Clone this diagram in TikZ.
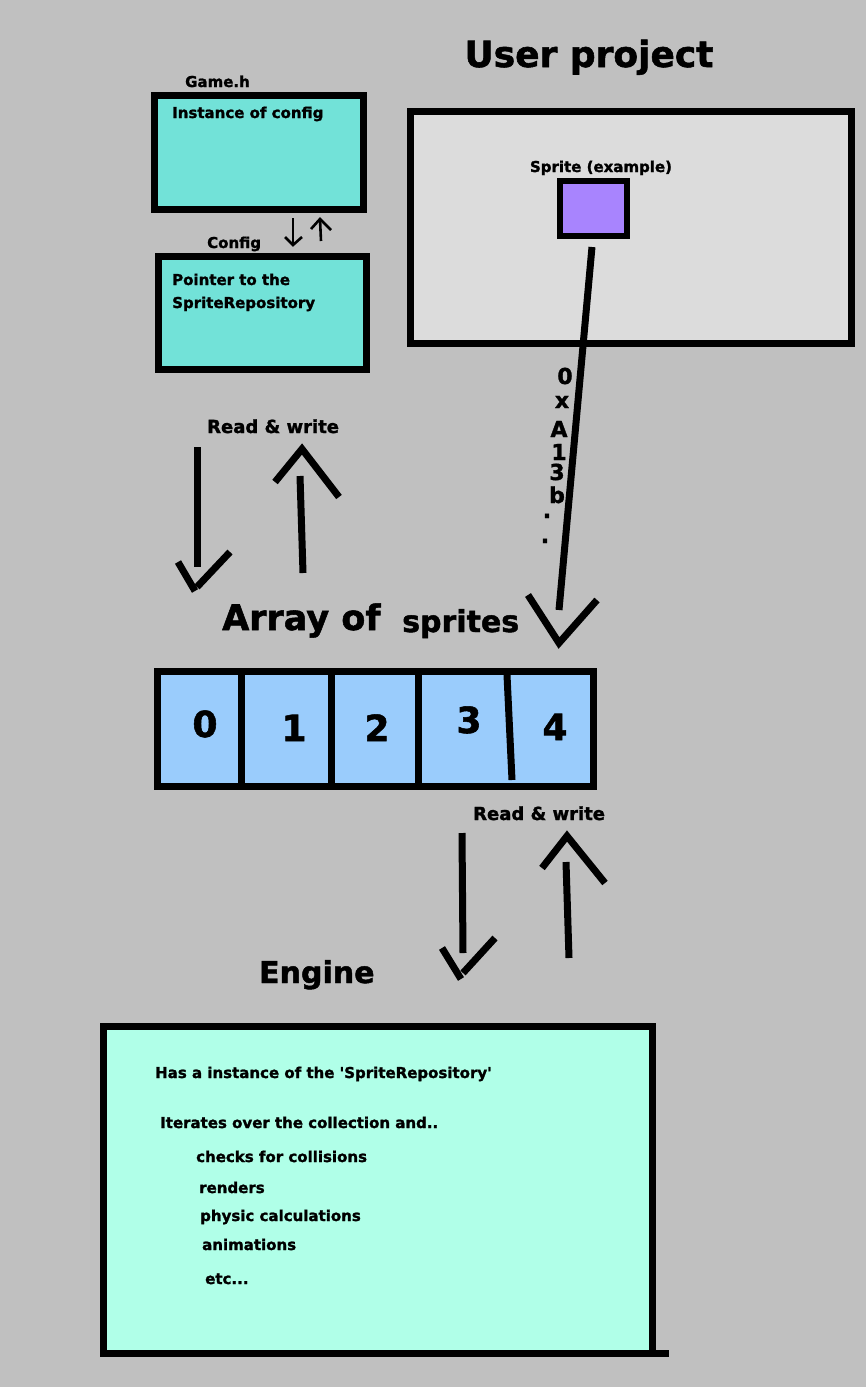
\documentclass[tikz,border=0pt]{standalone}
\usepackage{fontspec}
\setmainfont{DejaVu Sans}[Ligatures=TeXOff, BoldFeatures={FakeBold=1.5}]
\definecolor{bgc}{RGB}{192,192,192}
\definecolor{tealc}{RGB}{114,226,216}
\definecolor{userc}{RGB}{220,220,220}
\definecolor{purpc}{RGB}{168,132,254}
\definecolor{bluec}{RGB}{154,204,252}
\definecolor{mintc}{RGB}{176,255,232}
\tikzset{
  box/.style={draw=black, line width=7pt, rectangle, inner sep=0pt, outer sep=0pt},
  txt/.style={inner sep=0pt, anchor=base west, font=\bfseries\fontsize{15}{18}\selectfont},
  rwtxt/.style={inner sep=0pt, anchor=base west, font=\bfseries\fontsize{18}{21}\selectfont},
  bigtxt/.style={inner sep=0pt, anchor=base west, font=\bfseries\fontsize{#1}{#1}\selectfont},
  digit/.style={inner sep=0pt, anchor=base, font=\bfseries\fontsize{36}{36}\selectfont},
  hexch/.style={inner sep=0pt, anchor=base, font=\bfseries\fontsize{22}{22}\selectfont},
  stroke/.style={line width=7pt},
  thinstroke/.style={line width=2.6pt},
}
\begin{document}
\begin{tikzpicture}[x=1pt,y=-1pt]
\useasboundingbox (0,0) rectangle (866,1387);
\fill[bgc] (0,0) rectangle (866,1387);

% ---- Game.h / Config ----
\node[box, fill=tealc, minimum width=209, minimum height=113.5] (gameh) at (258.5,152.25) {};
\node[txt] (gamehlbl) at (185,87) {Game.h};
\node[txt] (gamehtxt) at (172,118) {Instance of config};
\node[box, fill=tealc, minimum width=208.5, minimum height=113] (config) at (262.25,313) {};
\node[txt] (configlbl) at (207,248) {Config};
\node[txt] (configtxt1) at (172,285) {Pointer to the};
\node[txt] (configtxt2) at (172,308) {SpriteRepository};

% small arrows between Game.h and Config
\coordinate (ma1) at (293,218); \coordinate (ma2) at (293,245);
\coordinate (ma3) at (285,237); \coordinate (ma4) at (302,237);
\draw[thinstroke] (ma1) -- (ma2);
\draw[thinstroke] (ma3) -- (ma2) -- (ma4);
\coordinate (mb1) at (321,241); \coordinate (mb2) at (320,219);
\coordinate (mb3) at (311,229); \coordinate (mb4) at (331,230);
\draw[thinstroke] (mb1) -- (mb2);
\draw[thinstroke] (mb3) -- (mb2) -- (mb4);

% ---- User project ----
\node[inner sep=0pt, anchor=base, font=\bfseries\fontsize{36}{36}\selectfont] (usertitle) at (589,67) {User project};
\node[box, fill=userc, minimum width=440.5, minimum height=232] (userbox) at (630.75,227.5) {};
\node[inner sep=0pt, anchor=base, font=\bfseries\fontsize{15}{18}\selectfont] (spritelbl) at (601,172) {Sprite (example)};
\node[box, line width=6pt, fill=purpc, minimum width=67, minimum height=55] (sprite) at (593.5,208.5) {};

% pointer line from sprite to array
\coordinate (sl1) at (592,247); \coordinate (sl2) at (559,610);
\draw[stroke] (sl1) -- (sl2);
\coordinate (sh1) at (528,595); \coordinate (sh2) at (559,643); \coordinate (sh3) at (597,600);
\draw[stroke] (sh1) -- (sh2) -- (sh3);

% hex address
\node[hexch] (hx1) at (565,384) {0};
\node[hexch] (hx2) at (562,408) {x};
\node[hexch] (hx3) at (559,437) {A};
\node[hexch] (hx4) at (559,460) {1};
\node[hexch] (hx5) at (557,480) {3};
\node[hexch] (hx6) at (557,503) {b};
\node[hexch] (hx7) at (547,518) {.};
\node[hexch] (hx8) at (545,543) {.};

% ---- Read & write (top) ----
\node[rwtxt] (rw1) at (207,433) {Read \& write};
\coordinate (la1) at (197,447); \coordinate (la2) at (197,567);
\draw[stroke] (la1) -- (la2);
\coordinate (la3) at (178,562); \coordinate (la4) at (195,591);
\coordinate (la5) at (197,587); \coordinate (la6) at (230,552);
\draw[stroke] (la3) -- (la4);
\draw[stroke] (la5) -- (la6);
\coordinate (lb1) at (303,573); \coordinate (lb2) at (300,476);
\draw[stroke] (lb1) -- (lb2);
\coordinate (lb3) at (275,482); \coordinate (lb4) at (302,449); \coordinate (lb5) at (339,497);
\draw[stroke] (lb3) -- (lb4) -- (lb5);

% ---- Array of sprites ----
\node[bigtxt=35] (arrlbl) at (222,630) {Array of};
\node[bigtxt=30] (sprlbl) at (402,632) {sprites};
\node[box, fill=bluec, minimum width=436.5, minimum height=115.5] (array) at (375.25,728.75) {};
\coordinate (d1a) at (241,675); \coordinate (d1b) at (241,783);
\coordinate (d2a) at (331,675); \coordinate (d2b) at (331,783);
\coordinate (d3a) at (418,675); \coordinate (d3b) at (418,783);
\coordinate (d4a) at (507,675); \coordinate (d4b) at (512,780);
\draw[stroke] (d1a) -- (d1b);
\draw[stroke] (d2a) -- (d2b);
\draw[stroke] (d3a) -- (d3b);
\draw[stroke] (d4a) -- (d4b);
\node[digit] (c0) at (205,737) {0};
\node[digit] (c1) at (294,741) {1};
\node[digit] (c2) at (377,741) {2};
\node[digit] (c3) at (469,733) {3};
\node[digit] (c4) at (555,740) {4};

% ---- Read & write (bottom) ----
\node[rwtxt] (rw2) at (473,820) {Read \& write};
\coordinate (ra1) at (462,833); \coordinate (ra2) at (463,953);
\draw[stroke] (ra1) -- (ra2);
\coordinate (ra3) at (442,948); \coordinate (ra4) at (461,979);
\coordinate (ra5) at (463,973); \coordinate (ra6) at (495,938);
\draw[stroke] (ra3) -- (ra4);
\draw[stroke] (ra5) -- (ra6);
\coordinate (rb1) at (569,958); \coordinate (rb2) at (566,862);
\draw[stroke] (rb1) -- (rb2);
\coordinate (rb3) at (542,868); \coordinate (rb4) at (567,836); \coordinate (rb5) at (605,883);
\draw[stroke] (rb3) -- (rb4) -- (rb5);

% ---- Engine ----
\node[bigtxt=30] (englbl) at (259,983) {Engine};
\node[box, fill=mintc, minimum width=549, minimum height=327.5] (engine) at (377.5,1189.75) {};
\coordinate (eb1) at (652,1353.5); \coordinate (eb2) at (669,1353.5);
\draw[stroke] (eb1) -- (eb2);
\node[txt] (e1) at (155,1078) {Has a instance of the 'SpriteRepository'};
\node[txt] (e2) at (160,1128) {Iterates over the collection and..};
\node[txt] (e3) at (196,1162) {checks for collisions};
\node[txt] (e4) at (199,1193) {renders};
\node[txt] (e5) at (200,1221) {physic calculations};
\node[txt] (e6) at (202,1250) {animations};
\node[txt] (e7) at (205,1284) {etc...};
\end{tikzpicture}
\end{document}
